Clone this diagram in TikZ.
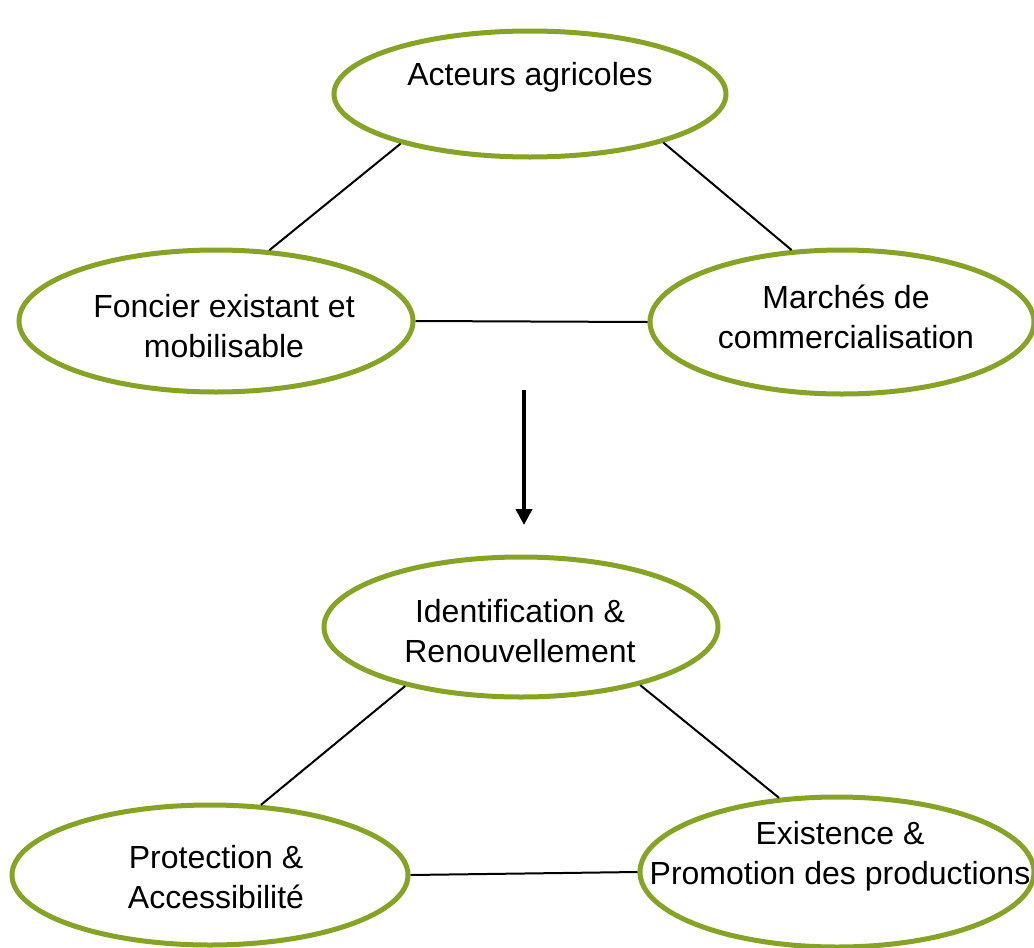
\documentclass[tikz,border=0pt]{standalone}
\usepackage{fontspec}
\setmainfont{Liberation Sans}
\usetikzlibrary{shapes.geometric,arrows.meta}
\definecolor{leafgreen}{RGB}{134,163,38}
\tikzset{bubble/.style={ellipse, draw=leafgreen, line width=2.5pt, fill=white, inner sep=0pt},
%text inside the ellipses
caption/.style={align=center, font=\fontsize{16}{20}\selectfont, inner sep=0pt},
link/.style={draw=black, line width=1pt}}

\begin{document}
\begin{tikzpicture}[x=0.5pt,y=-0.5pt]
    \useasboundingbox (0,0) rectangle (1034,948);

    % before
    \node[bubble, minimum width=196pt, minimum height=63pt] (acteurs) at (530,94) {};
    \node[bubble, minimum width=197pt, minimum height=71pt] (foncier) at (216,321) {};
    \node[bubble, minimum width=192pt, minimum height=72pt] (marches) at (842,322) {};

    \node[caption] (acteurstext) at (530,77) {Acteurs agricoles};
    \node[caption] (fonciertext) at (224,326) {Foncier existant et\\mobilisable};
    \node[caption] (marchestext) at (846,317) {Marchés de\\commercialisation};

    % after
    \node[bubble, minimum width=197pt, minimum height=70pt] (identification) at (521,627) {};
    \node[bubble, minimum width=198pt, minimum height=70pt] (protection) at (210,875) {};
    \node[bubble, minimum width=197pt, minimum height=75pt] (existence) at (837,872) {};

    \node[caption] (identificationtext) at (520,631) {Identification \&\\Renouvellement};
    \node[caption] (protectiontext) at (216,877) {Protection \&\\Accessibilité};
    \node[caption] (existencetext) at (840,856) {Existence \&\\Promotion des productions};

    \foreach \a/\b in {acteurs.201/foncier.53, acteurs.340/marches.125, foncier.0/marches.180,
        identification.207/protection.54, identification.334/existence.128, protection.0/existence.180}
    \draw[link] (\a) -- (\b);

    \coordinate (arrowtop) at (524,390);
    \coordinate (arrowtip) at (524,525);
    \draw[line width=2pt, -{Triangle[width=8pt,length=8pt]}] (arrowtop) -- (arrowtip);

\end{tikzpicture}
\end{document}
